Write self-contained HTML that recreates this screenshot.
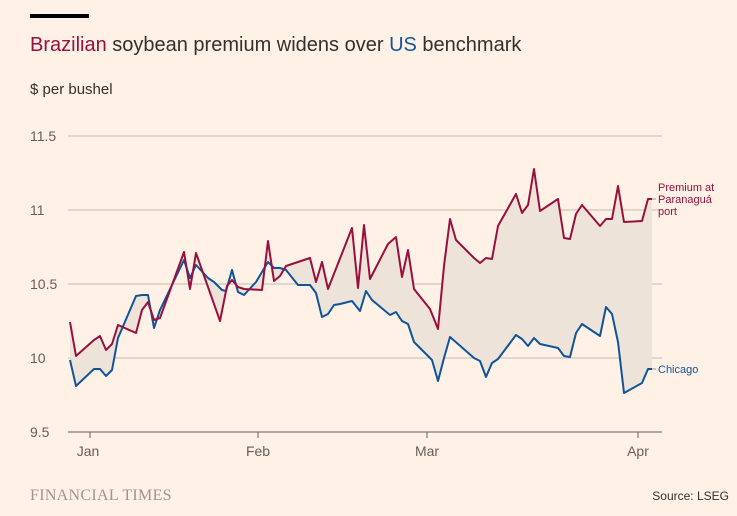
<!DOCTYPE html>
<html><head><meta charset="utf-8"><style>
body{margin:0;background:#fff1e5;font-family:"Liberation Sans",sans-serif;}
svg{display:block}
</style></head><body>
<svg width="737" height="516" xmlns="http://www.w3.org/2000/svg">
<rect width="737" height="516" fill="#fff1e5"/>
<rect x="30" y="14" width="59" height="4" fill="#000"/>
<text x="30" y="51" font-size="20" fill="#33302e"><tspan fill="#990f3d">Brazilian</tspan> soybean premium widens over <tspan fill="#0f5499">US</tspan> benchmark</text>
<text x="30" y="94" font-size="15" fill="#33302e">$ per bushel</text>
<g stroke="#c4bab0" stroke-width="1">
<line x1="68" y1="136" x2="662" y2="136"/><line x1="68" y1="210" x2="662" y2="210"/>
<line x1="68" y1="284" x2="662" y2="284"/><line x1="68" y1="358" x2="662" y2="358"/>
</g>
<line x1="68" y1="432" x2="662" y2="432" stroke="#66605c" stroke-width="1"/>
<g stroke="#66605c"><line x1="90" y1="432" x2="90" y2="438"/><line x1="258" y1="432" x2="258" y2="438"/><line x1="427" y1="432" x2="427" y2="438"/><line x1="638" y1="432" x2="638" y2="438"/></g>
<g font-size="14" fill="#66605c">
<text x="30" y="141">11.5</text><text x="30" y="215">11</text><text x="30" y="289">10.5</text><text x="30" y="363">10</text><text x="30" y="437">9.5</text>
<text x="88" y="456" text-anchor="middle">Jan</text><text x="258" y="456" text-anchor="middle">Feb</text><text x="427" y="456" text-anchor="middle">Mar</text><text x="638" y="456" text-anchor="middle">Apr</text>
</g>
<polygon fill="#ede3d9" points="70,322 76,356 94,340 100,336 106,350 112,344 118,325 136,333 142,310 148,302 154,320 160,318 184,252 190,289 196,253 220,321 227,286 232,280 238,287 244,289 262,290 268,241 274,281 280,276 286,266 310,258 316,282 322,262 328,289 352,228 358,288 364,225 370,279 388,244 396,237 402,277 408,250 414,289 430,309 438,329 444,266 450,219 456,240 474,258 480,263 486,258 492,259 498,226 516,194 522,213 528,205 534,169 540,211 558,199 564,238 570,239 576,214 582,205 600,226 606,219 612,219 618,186 624,222 642,221 648,199 652,199 652,369 648,369 642,383 624,393 618,342 612,314 606,307 600,336 582,324 576,333 570,357 564,356 558,348 540,344 534,338 528,346 522,339 516,335 498,359 492,363 486,377 480,361 474,358 450,337 444,358 438,381 432,360 414,342 408,324 402,321 396,312 390,315 372,300 366,291 360,311 352,301 340,304 334,305 328,314 322,317 316,293 310,285 298,285 286,270 280,268 274,268 268,262 262,272 256,282 244,295 238,292 232,270 226,291 222,290 214,282 208,278 196,265 190,278 184,260 160,310 154,328 148,295 142,295 136,296 124,324 118,338 112,370 106,376 100,369 94,369 76,386 70,360"/>
<polyline fill="none" stroke="#0f5499" stroke-width="2" stroke-linejoin="round" points="70,360 76,386 94,369 100,369 106,376 112,370 118,338 124,324 136,296 142,295 148,295 154,328 160,310 184,260 190,278 196,265 208,278 214,282 222,290 226,291 232,270 238,292 244,295 256,282 262,272 268,262 274,268 280,268 286,270 298,285 310,285 316,293 322,317 328,314 334,305 340,304 352,301 360,311 366,291 372,300 390,315 396,312 402,321 408,324 414,342 432,360 438,381 444,358 450,337 474,358 480,361 486,377 492,363 498,359 516,335 522,339 528,346 534,338 540,344 558,348 564,356 570,357 576,333 582,324 600,336 606,307 612,314 618,342 624,393 642,383 648,369 652,369"/>
<polyline fill="none" stroke="#990f3d" stroke-width="2" stroke-linejoin="round" points="70,322 76,356 94,340 100,336 106,350 112,344 118,325 136,333 142,310 148,302 154,320 160,318 184,252 190,289 196,253 220,321 227,286 232,280 238,287 244,289 262,290 268,241 274,281 280,276 286,266 310,258 316,282 322,262 328,289 352,228 358,288 364,225 370,279 388,244 396,237 402,277 408,250 414,289 430,309 438,329 444,266 450,219 456,240 474,258 480,263 486,258 492,259 498,226 516,194 522,213 528,205 534,169 540,211 558,199 564,238 570,239 576,214 582,205 600,226 606,219 612,219 618,186 624,222 642,221 648,199 652,199"/>
<line x1="652" y1="199" x2="656" y2="199" stroke="#999"/><line x1="652" y1="369" x2="656" y2="369" stroke="#999"/>
<g font-size="11" fill="#990f3d"><text x="658" y="191">Premium at</text><text x="658" y="203">Paranaguá</text><text x="658" y="215">port</text></g>
<text x="658" y="373" font-size="11" fill="#0f5499">Chicago</text>
<text x="30" y="500" font-family="Liberation Serif,serif" font-size="16" fill="#9e958d" letter-spacing="0.3">FINANCIAL TIMES</text>
<text x="729" y="500" font-size="12" fill="#33302e" text-anchor="end">Source: LSEG</text>
</svg>
</body></html>
